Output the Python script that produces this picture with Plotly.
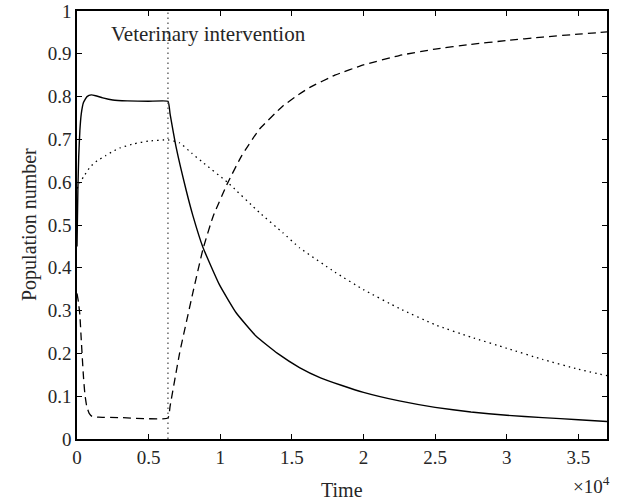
import plotly.graph_objects as go

# ---- data ----
intervention_time = 6350

solid_t = [0, 60, 120, 200, 300, 450, 700, 1000, 1300, 1800, 2500, 3500, 5000, 6350,
           6500, 6930, 7630, 8090, 8790, 9950, 11110, 12510, 14000, 15530, 17000, 18500,
           20000, 22500, 25000, 27500, 30000, 32500, 35000, 37000]
solid_y = [0.45, 0.58, 0.66, 0.72, 0.76, 0.786, 0.800, 0.804, 0.802, 0.797, 0.792, 0.790, 0.789, 0.789,
           0.759, 0.680, 0.580, 0.522, 0.448, 0.360, 0.295, 0.240, 0.200, 0.167, 0.143, 0.125,
           0.109, 0.089, 0.074, 0.063, 0.0555, 0.050, 0.045, 0.041]

dashed_t = [0, 100, 200, 300, 450, 550, 680, 850, 1050, 1500, 3000, 6350,
            6500, 7160, 8090, 8790, 9500, 10530, 11500, 12740, 14370, 15530, 16230, 18000,
            20000, 22500, 25000, 27500, 30000, 32500, 35000, 37000]
dashed_y = [0.34, 0.32, 0.29, 0.23, 0.146, 0.105, 0.076, 0.060, 0.053, 0.051, 0.050, 0.049,
            0.077, 0.200, 0.342, 0.443, 0.520, 0.599, 0.662, 0.724, 0.778, 0.806, 0.821, 0.850,
            0.874, 0.896, 0.911, 0.922, 0.931, 0.939, 0.946, 0.951]

dotted_t = [0, 200, 450, 900, 1400, 2000, 2500, 3000, 4000, 5000, 6350,
            7160, 8000, 8790, 10530, 12740, 14370, 15530, 18000, 20000, 22500,
            25000, 27500, 30000, 32500, 35000, 37000]
dotted_y = [0.585, 0.600, 0.612, 0.635, 0.650, 0.662, 0.672, 0.680, 0.690, 0.696, 0.699,
            0.692, 0.668, 0.646, 0.599, 0.529, 0.482, 0.447, 0.390, 0.349, 0.305,
            0.267, 0.238, 0.212, 0.186, 0.163, 0.148]

x_tickvals = [0, 5000, 10000, 15000, 20000, 25000, 30000, 35000]
x_ticktext = ["0", "0.5", "1", "1.5", "2", "2.5", "3", "3.5"]
y_tickvals = [0, 0.1, 0.2, 0.3, 0.4, 0.5, 0.6, 0.7, 0.8, 0.9, 1.0]
y_ticktext = ["0", "0.1", "0.2", "0.3", "0.4", "0.5", "0.6", "0.7", "0.8", "0.9", "1"]

FONT = "Liberation Serif"
TXT = "#262626"

fig = go.Figure()
fig.add_trace(go.Scatter(x=solid_t, y=solid_y, mode="lines",
                         line=dict(color="black", width=1.4, shape="spline", smoothing=0.4),
                         showlegend=False))
fig.add_trace(go.Scatter(x=dashed_t, y=dashed_y, mode="lines",
                         line=dict(color="black", width=1.3, dash="8px,5px", shape="spline", smoothing=0.4),
                         showlegend=False))
fig.add_trace(go.Scatter(x=dotted_t, y=dotted_y, mode="lines",
                         line=dict(color="black", width=1.3, dash="1.5px,4px", shape="spline", smoothing=0.4),
                         showlegend=False))
fig.add_trace(go.Scatter(x=[intervention_time, intervention_time], y=[0, 1], mode="lines",
                         line=dict(color="#444444", width=1.2, dash="1.5px,3.5px"),
                         showlegend=False))

fig.add_annotation(x=2250, y=0.946, xref="x", yref="y", text="Veterinary intervention",
                   showarrow=False, xanchor="left", yanchor="middle",
                   font=dict(family=FONT, size=21, color=TXT))
fig.add_annotation(x=1, y=0, xref="paper", yref="paper", text="×10<sup>4</sup>",
                   showarrow=False, xanchor="right", yanchor="middle", xshift=5, yshift=-46,
                   font=dict(family=FONT, size=19, color=TXT))
fig.add_annotation(x=0.5, y=0, xref="paper", yref="paper", text="Time",
                   showarrow=False, xanchor="center", yanchor="middle", yshift=-51,
                   font=dict(family=FONT, size=20, color=TXT))
fig.add_annotation(x=0, y=0.5, xref="paper", yref="paper", text="Population number",
                   showarrow=False, xanchor="center", yanchor="middle", xshift=-48, textangle=-90,
                   font=dict(family=FONT, size=20, color=TXT))

axis_common = dict(showgrid=False, zeroline=False, showline=True, linecolor="black", linewidth=1.6,
                   mirror="ticks", ticks="inside", ticklen=5, tickwidth=1, tickcolor="black",
                   tickfont=dict(family=FONT, size=19, color=TXT))

fig.update_xaxes(range=[0, 37000], tickvals=x_tickvals, ticktext=x_ticktext, **axis_common)
fig.update_yaxes(range=[0, 1], tickvals=y_tickvals, ticktext=y_ticktext, **axis_common)

fig.update_layout(width=621, height=501, plot_bgcolor="white", paper_bgcolor="white",
                  margin=dict(l=77, r=14, t=11, b=62, autoexpand=False), showlegend=False)

fig.write_html("out.html", config={"displayModeBar": False},
               post_script="document.body.style.margin='0';document.body.style.overflow='hidden';")
